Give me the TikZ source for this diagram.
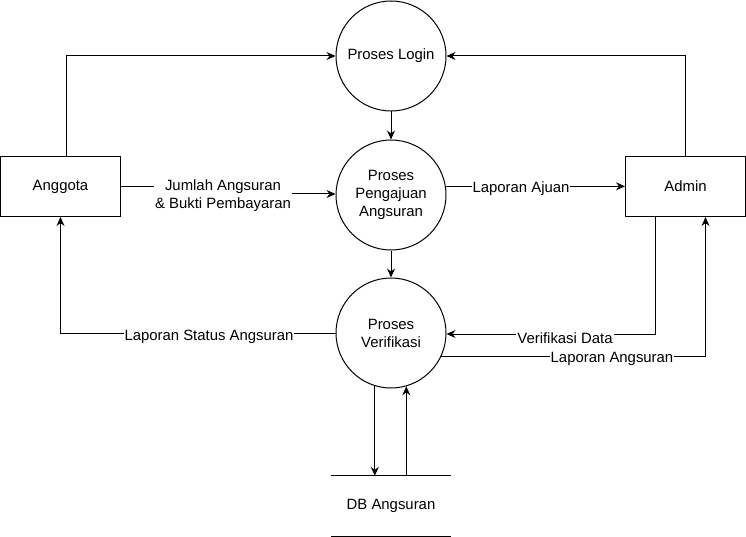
\documentclass[tikz,border=0pt]{standalone}
\usepackage{fontspec}
\setmainfont{Liberation Sans}
\usetikzlibrary{arrows.meta}
\tikzset{
  proc/.style={circle,draw,line width=1pt,minimum size=110pt,inner sep=0pt,align=center,font=\fontsize{14.9}{18}\selectfont},
  ent/.style={rectangle,draw,line width=1pt,minimum width=120pt,minimum height=60pt,inner sep=0pt,font=\fontsize{14.9}{18}\selectfont},
  store/.style={rectangle,minimum width=120pt,minimum height=60pt,inner sep=0pt,font=\fontsize{14.9}{18}\selectfont},
  flow/.style={line width=1pt,-{Stealth[length=9pt,width=8pt,inset=3pt]}},
  lbl/.style={fill=white,inner sep=1pt,align=center,font=\fontsize{14.9}{18}\selectfont},
  plain/.style={line width=1pt}
}
\begin{document}
\begin{tikzpicture}[x=1pt,y=-1pt]
\useasboundingbox (0,0) rectangle (746,537);
% nodes
\node[proc] (login) at (391,56) {Proses Login};
\node[proc] (peng) at (391,195) {Proses\\Pengajuan\\Angsuran};
\node[proc] (verif) at (391,333) {Proses\\Verifikasi};
\node[ent] (ang) at (60.5,186.5) {Anggota};
\node[ent] (admin) at (685.5,186.5) {Admin};
\node[store] (db) at (391,506) {DB Angsuran};
\draw[plain] (db.north west) -- (db.north east);
\draw[plain] (db.south west) -- (db.south east);
% connectors
\draw[flow] ([xshift=6pt]ang.north) |- (login.west);
\draw[flow] (admin.north) |- (login.east);
\draw[flow] (login.south) -- (peng.north);
\draw[flow] (peng.south) -- (verif.north);
\draw[flow] (ang.east) -- ++(100,0) |- ([yshift=1pt]peng.west);
\node[lbl] at (223,196) {Jumlah Angsuran\\\&\ Bukti Pembayaran};
\draw[flow] (peng.9) -- (peng.9 -| admin.west);
\node[lbl] at (521,189) {Laporan Ajuan};
\draw[flow] (verif.west) -| (ang.south);
\node[lbl] at (209,337) {Laporan Status Angsuran};
\draw[flow] ([xshift=-30pt]admin.south) |- ([yshift=-1pt]verif.east);
\node[lbl] at (565,338) {Verifikasi Data};
\draw[flow] (verif.-25) -| ([xshift=20pt]admin.south);
\node[lbl] at (612,359) {Laporan Angsuran};
\draw[flow] (verif.-107) -- (verif.-107 |- db.north);
\draw[flow] (db.north -| verif.-74) -- (verif.-74);
\end{tikzpicture}
\end{document}
